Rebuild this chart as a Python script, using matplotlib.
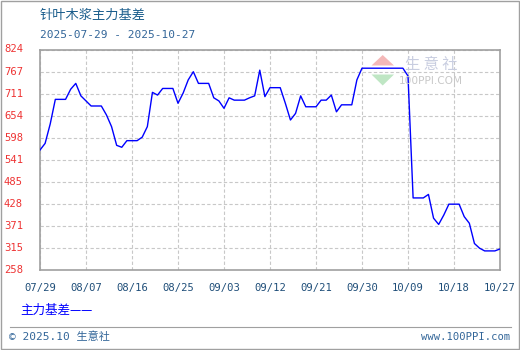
import numpy as np
import pandas as pd
import matplotlib
matplotlib.use("Agg")
import matplotlib.pyplot as plt
import matplotlib.dates as mdates
from matplotlib.patches import Polygon, Rectangle
from matplotlib.transforms import blended_transform_factory

# daily values 2025-07-29 .. 2025-10-27 (weekends/holidays carry the last value)
start_date = "2025-07-29"
end_date = "2025-10-27"
basis = [
    566, 583, 633, 696, 696, 696, 722, 737, 705, 692,
    679, 679, 679, 656, 626, 578, 573, 590, 590, 590,
    599, 626, 714, 707, 724, 724, 724, 686, 712, 746,
    767, 737, 737, 737, 700, 692, 673, 700, 694, 694,
    694, 700, 705, 771, 703, 726, 726, 726, 686, 643,
    660, 705, 677, 677, 677, 694, 694, 707, 664, 682,
    682, 682, 746, 776, 776, 776, 776, 776, 776, 776,
    776, 776, 756, 443, 443, 443, 452, 391, 375, 399,
    427, 427, 427, 395, 378, 326, 314, 307, 307, 307,
    312,
]
ytick_labels = ["258", "315", "371", "428", "485", "541", "598", "654", "711", "767", "824"]
title = "针叶木浆主力基差"
series_name = "主力基差"

dates = pd.date_range(start_date, end_date, freq="D")

W, H = 520, 350
fig = plt.figure(figsize=(W / 100, H / 100), dpi=100)
fig.patch.set_facecolor("white")

def fx(px):
    return px / W

def fy(py):
    return 1 - py / H

# plot area in pixels: x 40..500, y 49.5..270
ax = fig.add_axes([fx(40), fy(270), fx(460), (270 - 49.5) / H])
ax.plot(dates, basis, color="#0000ff", linewidth=1.0, zorder=3)

ax.set_xlim(dates[0], dates[-1])
ymin, ymax = float(ytick_labels[0]), float(ytick_labels[-1])
ax.set_ylim(ymin, ymax)
yticks = np.linspace(ymin, ymax, len(ytick_labels))
xticks = dates[::9]
ax.set_xticks(xticks)
ax.set_yticks(yticks)
ax.xaxis.set_major_formatter(mdates.DateFormatter("%m/%d"))
ax.tick_params(axis="x", length=0, pad=9, labelsize=7.6, labelcolor="#1f4e79")
ax.tick_params(axis="y", length=0, labelleft=False)
for lab in ax.get_xticklabels():
    lab.set_fontfamily("DejaVu Sans Mono")

ax.grid(True, color="#c8c8c8", linestyle=(0, (3, 2)), linewidth=0.8)
for s in ax.spines.values():
    s.set_color("#a0a0a0")
    s.set_linewidth(1.2)

# y labels sit at the left edge of the figure
tr = blended_transform_factory(fig.transFigure, ax.transData)
for v, lab in zip(yticks, ytick_labels):
    ax.text(fx(4), v, lab, transform=tr, ha="left", va="center",
            fontsize=7.6, color="#ee3333", family="DejaVu Sans Mono", clip_on=False)

cjk = ["DejaVu Sans Mono", "Noto Sans CJK SC"]
fig.text(fx(40), fy(15), title, fontsize=9.5, color="#1a5d8c",
         family="Noto Sans CJK SC", va="center", ha="left")
fig.text(fx(40), fy(35), f"{start_date} - {end_date}", fontsize=8, color="#336699",
         family="DejaVu Sans Mono", va="center", ha="left")
fig.text(fx(20), fy(310), series_name + "——", fontsize=9, color="#0000ff",
         family=["Noto Sans CJK SC", "DejaVu Sans"], va="center", ha="left")
fig.text(fx(9), fy(337), "© 2025.10 生意社", fontsize=8, color="#336699",
         family=cjk, va="center", ha="left")
fig.text(fx(510), fy(337), "www.100PPI.com", fontsize=7.6, color="#336699",
         family="DejaVu Sans Mono", va="center", ha="right")

# watermark
fig.patches.append(Polygon([[fx(371.5), fy(65.5)], [fx(394), fy(65.5)], [fx(382.7), fy(55)]],
                           closed=True, transform=fig.transFigure, facecolor="#f4b8b8",
                           edgecolor="none", zorder=0.5))
fig.patches.append(Polygon([[fx(371.5), fy(74.5)], [fx(394), fy(74.5)], [fx(382.7), fy(85.5)]],
                           closed=True, transform=fig.transFigure, facecolor="#bfe6c4",
                           edgecolor="none", zorder=0.5))
fig.text(fx(431), fy(64.5), "生 意 社", fontsize=11, color="#c8cde0",
         family="Noto Sans CJK SC", va="center", ha="center", zorder=0.5)
fig.text(fx(431), fy(80.5), "100PPI.COM", fontsize=7.6, color="#c8c8c8",
         family="DejaVu Sans", va="center", ha="center", zorder=0.5)
ax.set_facecolor("none")

# separator line and outer frame
fig.add_artist(plt.Line2D([fx(10), fx(511)], [fy(326.5), fy(326.5)],
                          transform=fig.transFigure, color="#a0a0a0", linewidth=0.8))
fig.patches.append(Rectangle((0.001, 0.0015), 0.997, 0.996, transform=fig.transFigure,
                             fill=False, edgecolor="#a0a0a0", linewidth=1.0))

fig.savefig("out.png", dpi=100, facecolor="white")
